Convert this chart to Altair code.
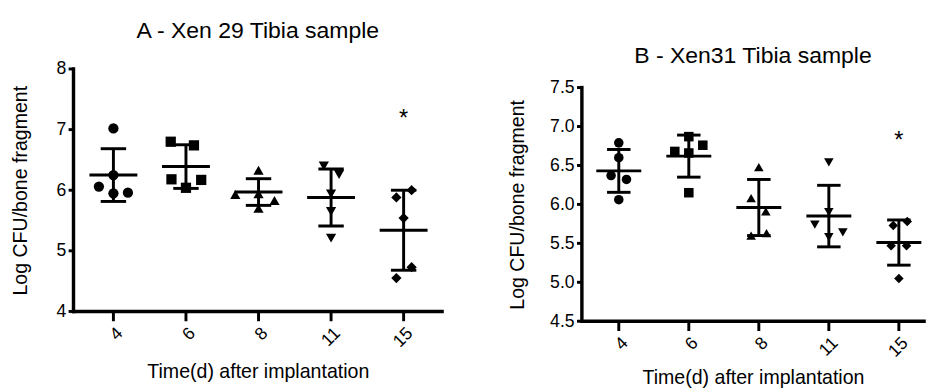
import altair as alt
import pandas as pd

days = ["4", "6", "8", "11", "15"]
shapes = ["circle", "square", "triangle-up", "triangle-down", "diamond"]

# Panel A - Xen 29 (Log CFU / bone fragment), 5 animals per day
a_values = [
    [7.02, 6.25, 6.06, 5.95, 5.96],
    [6.80, 6.74, 6.18, 6.17, 6.04],
    [6.33, 5.93, 5.94, 5.83, 5.70],
    [6.40, 6.26, 5.94, 5.65, 5.21],
    [6.00, 5.88, 5.54, 4.73, 4.55],
]
a_jitter = [
    [0, 0, -1, 0, 1],
    [-1.05, 0.55, -1, 1.05, 0],
    [0, -1.6, 0, 1.1, 0],
    [-0.5, 0.55, 0, 0, 0],
    [0.55, -0.5, 0, 0.55, -0.5],
]
a_mean = [6.25, 6.39, 5.97, 5.88, 5.34]
a_sd = [0.435, 0.36, 0.22, 0.47, 0.66]
a_star = 7.27

# Panel B - Xen31
b_values = [
    [6.79, 6.60, 6.37, 6.32, 6.06],
    [6.87, 6.76, 6.68, 6.66, 6.15],
    [6.48, 6.08, 5.91, 5.63, 5.60],
    [6.54, 5.90, 5.74, 5.64, 5.58],
    [5.78, 5.73, 5.47, 5.47, 5.05],
]
b_jitter = [
    [0, 0, -0.55, 0.55, 0],
    [0, 1, -1, 0, 0],
    [0, -0.55, 0.5, 0.55, -0.55],
    [0, 0, -1, 1, 0],
    [0.6, -0.4, -0.55, 0.55, 0],
]
b_mean = [6.43, 6.62, 5.96, 5.85, 5.51]
b_sd = [0.275, 0.27, 0.36, 0.395, 0.29]
b_star = 6.89

FONT = "Liberation Sans"
labels_js = "[" + ",".join("'%s'" % d for d in days) + "]"
XTICK_PX = 10   # length of x-axis tick marks
YTICK_PX = 5    # length of y-axis tick marks
AXIS_W = 3.5    # axis line thickness


def panel(values, jitter, mean, sd, star, title, ydom, yticks, yfmt,
          width, height, yrange, xdom, mean_len, cap_len, title_offset,
          ytitle_pad, xtitle_pad, msize):
    pts = []
    for i, (vals, jit) in enumerate(zip(values, jitter)):
        for v, j in zip(vals, jit):
            pts.append({"idx": i, "day": days[i], "value": v, "jit": j})
    pts = pd.DataFrame(pts)
    stats = pd.DataFrame({"idx": list(range(len(days))), "day": days,
                          "mean": mean, "sd": sd})
    star_df = pd.DataFrame({"idx": [len(days) - 1], "value": [star]})

    # axis frame and tick marks, expressed in data units of the scales
    px_x = width / (xdom[1] - xdom[0])
    px_y = abs(yrange[0] - yrange[1]) / (ydom[1] - ydom[0])
    frame = pd.DataFrame([
        {"x": xdom[0], "x2": xdom[1], "y": ydom[0], "y2": ydom[0]},
        {"x": xdom[0], "x2": xdom[0], "y": ydom[0], "y2": ydom[1]},
    ])
    tick_rows = [{"x": i, "x2": i, "y": ydom[0], "y2": ydom[0] - XTICK_PX / px_y}
                 for i in range(len(days))]
    tick_rows += [{"x": xdom[0] - YTICK_PX / px_x, "x2": xdom[0], "y": v, "y2": v}
                  for v in yticks]
    ticks_df = pd.DataFrame(tick_rows)

    xs = alt.Scale(domain=xdom, nice=False, zero=False)
    ys = alt.Scale(domain=ydom, nice=False, zero=False, range=yrange)

    xax = alt.Axis(values=list(range(len(days))), labelExpr=labels_js + "[datum.value]",
                   title="Time(d) after implantation", domain=False, ticks=False,
                   tickSize=0, labelAngle=-45, labelAlign="right", labelBaseline="top",
                   labelPadding=XTICK_PX + 3, titlePadding=xtitle_pad, grid=False)
    yax = alt.Axis(values=yticks, format=yfmt, title="Log CFU/bone fragment",
                   domain=False, ticks=False, tickSize=0, labelPadding=YTICK_PX + 3,
                   titlePadding=ytitle_pad, grid=False)

    points = alt.Chart(pts).transform_calculate(
        xj="datum.idx + datum.jit * 0.2"
    ).mark_point(filled=True, opacity=1, color="black", size=msize).encode(
        x=alt.X("xj:Q", scale=xs, axis=xax),
        y=alt.Y("value:Q", scale=ys, axis=yax),
        shape=alt.Shape("day:N", scale=alt.Scale(domain=days, range=shapes), legend=None),
    )
    axis_lines = alt.Chart(frame).mark_rule(color="black", strokeWidth=AXIS_W,
                                            strokeCap="square").encode(
        x=alt.X("x:Q"), x2="x2:Q", y=alt.Y("y:Q"), y2="y2:Q")
    tick_marks = alt.Chart(ticks_df).mark_rule(color="black", strokeWidth=3).encode(
        x=alt.X("x:Q"), x2="x2:Q", y=alt.Y("y:Q"), y2="y2:Q")
    base = alt.Chart(stats).transform_calculate(
        lo="datum.mean - datum.sd", hi="datum.mean + datum.sd"
    )
    bar = base.mark_rule(color="black", strokeWidth=3).encode(
        x=alt.X("idx:Q"), y=alt.Y("lo:Q"), y2="hi:Q")
    mline = base.mark_tick(color="black", orient="horizontal", size=mean_len,
                           thickness=3, opacity=1).encode(
        x=alt.X("idx:Q"), y=alt.Y("mean:Q"))
    cap_hi = base.mark_tick(color="black", orient="horizontal", size=cap_len,
                            thickness=3, opacity=1).encode(
        x=alt.X("idx:Q"), y=alt.Y("hi:Q"))
    cap_lo = base.mark_tick(color="black", orient="horizontal", size=cap_len,
                            thickness=3, opacity=1).encode(
        x=alt.X("idx:Q"), y=alt.Y("lo:Q"))
    st = alt.Chart(star_df).mark_text(text="*", fontSize=24, font=FONT,
                                      color="black", baseline="alphabetic",
                                      dy=13).encode(
        x=alt.X("idx:Q"), y=alt.Y("value:Q"))
    return alt.layer(points, axis_lines, tick_marks, bar, mline, cap_hi, cap_lo,
                     st).properties(
        width=width, height=height,
        title=alt.TitleParams(title, fontSize=23.5, font=FONT, fontWeight="normal",
                              anchor="middle", color="black", offset=title_offset),
    )


A = panel(a_values, a_jitter, a_mean, a_sd, a_star, "A - Xen 29 Tibia sample",
          [4, 8], [4, 5, 6, 7, 8], "d", 377, 248, [248, 0], [-0.55, 4.53],
          49, 26, 18, 26, 12, 110)
B = panel(b_values, b_jitter, b_mean, b_sd, b_star, "B - Xen31 Tibia sample",
          [4.5, 7.5], [4.5, 5.0, 5.5, 6.0, 6.5, 7.0, 7.5], ".1f", 350, 258, [258, 19],
          [-0.527, 4.36], 46, 24, 2, 23, 8, 95)

chart = alt.hconcat(A, B, spacing=63).properties(
    padding={"left": 2, "top": 7, "right": 0, "bottom": 0}
).configure_axis(
    labelColor="#000000", titleColor="#000000", labelFont=FONT, titleFont=FONT,
    titleFontWeight="normal", grid=False, labelFontSize=18, titleFontSize=20,
).configure_view(stroke=None)

chart.save("out.html", embed_options={"renderer": "svg", "actions": False})
